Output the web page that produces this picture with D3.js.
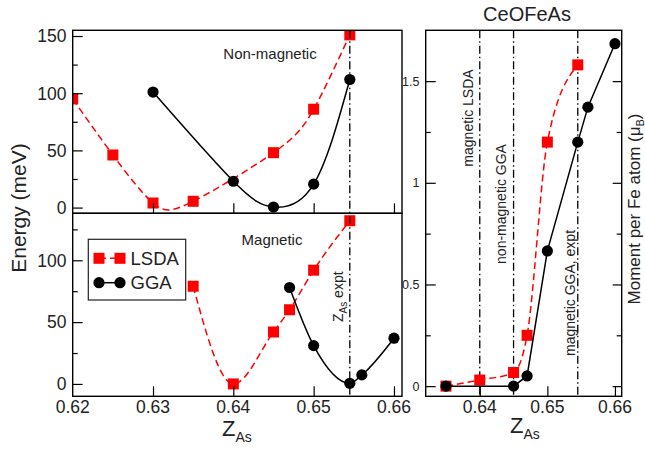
<!DOCTYPE html>
<html>
<head>
<meta charset="utf-8">
<script src="https://cdn.jsdelivr.net/npm/d3@7"></script>
<style>
  html, body { margin: 0; padding: 0; background: #fff; }
  svg { display: block; font-family: "Liberation Sans", Arial, Helvetica, sans-serif; }
</style>
</head>
<body>
<svg id="chart" width="645" height="449"></svg>
<script>
// ---- data ----
const zExpt = 0.6545;

// Non-magnetic energies (meV)
const nmLsdaZ = [0.62, 0.625, 0.63, 0.635, 0.645, 0.65, 0.6545];
const nmLsdaE = [95, 46, 4, 5.5, 48, 86, 151];
const nmGgaZ = [0.63, 0.64, 0.645, 0.65, 0.6545];
const nmGgaE = [101, 23, 0.5, 20.5, 112];

// Magnetic energies (meV)
const mLsdaZ = [0.635, 0.64, 0.645, 0.647, 0.65, 0.6545];
const mLsdaE = [79, 0, 42, 60, 92, 132];
const mGgaZ = [0.647, 0.65, 0.6545, 0.656, 0.66];
const mGgaE = [78, 31, 0.5, 7.3, 37];

// Moment per Fe atom (mu_B)
const momLsdaZ = [0.635, 0.64, 0.645, 0.647, 0.65, 0.6545];
const momLsdaM = [0.0, 0.03, 0.067, 0.25, 1.2, 1.58];
const momGgaZ = [0.635, 0.645, 0.647, 0.65, 0.6545, 0.656, 0.66];
const momGgaM = [0.0, 0.0, 0.05, 0.665, 1.2, 1.372, 1.684];

// reference lines in the moment panel
const momLines = [0.64, 0.645, 0.6545];
const momLineLabels = ["magnetic LSDA", "non-magnetic GGA", "magnetic GGA, expt"];

// tick values
const zTicksLeft = [0.62, 0.63, 0.64, 0.65, 0.66];
const zTicksRight = [0.64, 0.65, 0.66];
const eTicksTop = [0, 50, 100, 150];
const eTicksBottom = [0, 50, 100];
const eMinor = [25, 75, 125];
const mTicks = [0, 0.5, 1, 1.5];
const mMinor = [0.25, 0.75, 1.25];

// ---- layout ----
const svg = d3.select("#chart");
const RED = "#ff0000";
const TXT = "#222";
const L = { x0: 72.7, x1: 402, top: 30.3, mid: 213.3, bot: 396.3 };
const R = { x0: 425.7, x1: 621.7, top: 30.3, bot: 396.3 };

const xL = d3.scaleLinear().domain([0.62, 0.661]).range([L.x0, L.x1]);
const yTop = d3.scaleLinear().domain([-5, 155]).range([L.mid, L.top]);
const yBot = d3.scaleLinear().domain([-10, 138]).range([L.bot, L.mid]);
const xR = d3.scaleLinear().domain([0.632, 0.661]).range([R.x0, R.x1]);
const yR = d3.scaleLinear().domain([-0.05, 1.75]).range([R.bot, R.top]);

const zip = (a, b) => a.map((v, i) => [v, b[i]]);
const fmtZ = d3.format(".2f");

// clip paths per panel
const defs = svg.append("defs");
function clip(id, x, y, w, h) {
  defs.append("clipPath").attr("id", id).append("rect")
    .attr("x", x).attr("y", y).attr("width", w).attr("height", h);
}
clip("cTop", L.x0, L.top, L.x1 - L.x0, L.mid - L.top);
clip("cBot", L.x0, L.mid, L.x1 - L.x0, L.bot - L.mid);
clip("cR", R.x0, R.top, R.x1 - R.x0, R.bot - R.top);

// ---- axes helpers ----
function leftAxis(g, scale, major, minor, x) {
  const a = g.append("g").attr("transform", `translate(${x},0)`);
  a.call(d3.axisRight(scale).tickValues(major).tickSize(10).tickFormat(""));
  a.append("g").call(d3.axisRight(scale).tickValues(minor).tickSize(5).tickFormat(""));
  a.selectAll(".domain").remove();
  a.selectAll("line").attr("stroke", "#000").attr("stroke-width", 1.2);
  return a;
}
function yLabels(g, scale, values, x, size, fmt) {
  g.append("g").selectAll("text").data(values).join("text")
    .attr("x", x).attr("y", d => scale(d)).attr("dy", "0.36em")
    .attr("text-anchor", "end").attr("font-size", size).attr("fill", TXT)
    .text(fmt);
}
function bottomTicks(g, scale, values, y) {
  const a = g.append("g").attr("transform", `translate(0,${y})`)
    .call(d3.axisTop(scale).tickValues(values).tickSize(10).tickFormat(""));
  a.selectAll(".domain").remove();
  a.selectAll("line").attr("stroke", "#000").attr("stroke-width", 1.2);
}
function xLabels(g, scale, values, y) {
  g.append("g").selectAll("text").data(values).join("text")
    .attr("x", d => scale(d)).attr("y", y)
    .attr("text-anchor", "middle").attr("font-size", 17.5).attr("fill", TXT)
    .text(fmtZ);
}
function frame(x0, y0, x1, y1) {
  svg.append("rect").attr("x", x0).attr("y", y0)
    .attr("width", x1 - x0).attr("height", y1 - y0)
    .attr("fill", "none").attr("stroke", "#000").attr("stroke-width", 1.4);
}

// ---- marks helpers ----
function series(g, sx, sy, pts, opt) {
  const line = d3.line().x(d => sx(d[0])).y(d => sy(d[1])).curve(opt.curve || d3.curveLinear);
  g.append("path").datum(pts).attr("d", line)
    .attr("fill", "none").attr("stroke", opt.color).attr("stroke-width", 1.5)
    .attr("stroke-dasharray", opt.dash || null);
  if (opt.shape === "square") {
    g.append("g").selectAll("rect").data(pts).join("rect")
      .attr("x", d => sx(d[0]) - 5.5).attr("y", d => sy(d[1]) - 5.5)
      .attr("width", 11).attr("height", 11).attr("fill", opt.color);
  } else {
    g.append("g").selectAll("circle").data(pts).join("circle")
      .attr("cx", d => sx(d[0])).attr("cy", d => sy(d[1])).attr("r", 5.6)
      .attr("fill", opt.color);
  }
}
function dashDot(g, x, y0, y1) {
  g.append("line").attr("x1", x).attr("x2", x).attr("y1", y0).attr("y2", y1)
    .attr("stroke", "#000").attr("stroke-width", 1.3)
    .attr("stroke-dasharray", "8,3,1.5,3");
}

// ---- left: energy panels ----
const gTop = svg.append("g").attr("clip-path", "url(#cTop)");
const gBot = svg.append("g").attr("clip-path", "url(#cBot)");

dashDot(svg, xL(zExpt), L.top, L.bot);

series(gTop, xL, yTop, zip(nmLsdaZ, nmLsdaE), { color: RED, dash: "7,4", shape: "square", curve: d3.curveNatural });
series(gTop, xL, yTop, zip(nmGgaZ, nmGgaE), { color: "#000", shape: "circle", curve: d3.curveNatural });

series(gBot, xL, yBot, zip(mLsdaZ, mLsdaE), { color: RED, dash: "7,4", shape: "square", curve: d3.curveMonotoneX });
series(gBot, xL, yBot, zip(mGgaZ, mGgaE), { color: "#000", shape: "circle", curve: d3.curveMonotoneX });

leftAxis(svg, yTop, eTicksTop, eMinor, L.x0);
leftAxis(svg, yBot, eTicksBottom, eMinor, L.x0);
yLabels(svg, yTop, eTicksTop, 66.5, 17.5, d => d);
yLabels(svg, yBot, eTicksBottom, 66.5, 17.5, d => d);
bottomTicks(svg, xL, zTicksLeft.slice(1), L.mid);
bottomTicks(svg, xL, zTicksLeft.slice(1), L.bot);
xLabels(svg, xL, zTicksLeft, 413);
frame(L.x0, L.top, L.x1, L.mid);
frame(L.x0, L.mid, L.x1, L.bot);

svg.append("text").attr("x", 270).attr("y", 59).attr("text-anchor", "middle")
  .attr("font-size", 15).attr("fill", TXT).text("Non-magnetic");
svg.append("text").attr("x", 272).attr("y", 245).attr("text-anchor", "middle")
  .attr("font-size", 15).attr("fill", TXT).text("Magnetic");

// Z_As expt label next to the experimental line
const zl = svg.append("text")
  .attr("transform", `translate(${xL(zExpt) - 7},322) rotate(-90)`)
  .attr("font-size", 14).attr("fill", TXT);
zl.append("tspan").text("Z");
zl.append("tspan").attr("dy", 4).attr("font-size", 10).text("As");
zl.append("tspan").attr("dy", -4).text(" expt");

// legend
const lg = svg.append("g");
lg.append("rect").attr("x", 88.3).attr("y", 239.3).attr("width", 97.4).attr("height", 60.7)
  .attr("fill", "#fff").attr("stroke", "#222").attr("stroke-width", 1.2);
const legendItems = [
  { name: "LSDA", color: RED, dash: "7,4", shape: "square", y: 258.3 },
  { name: "GGA", color: "#000", dash: null, shape: "circle", y: 282.7 }
];
legendItems.forEach(it => {
  lg.append("line").attr("x1", 99).attr("x2", 120).attr("y1", it.y).attr("y2", it.y)
    .attr("stroke", it.color).attr("stroke-width", 1.5).attr("stroke-dasharray", it.dash);
  [99, 120].forEach(cx => {
    if (it.shape === "square") {
      lg.append("rect").attr("x", cx - 5.5).attr("y", it.y - 5.5).attr("width", 11).attr("height", 11).attr("fill", it.color);
    } else {
      lg.append("circle").attr("cx", cx).attr("cy", it.y).attr("r", 5.6).attr("fill", it.color);
    }
  });
  lg.append("text").attr("x", 130.5).attr("y", it.y).attr("dy", "0.36em")
    .attr("font-size", 18.5).attr("fill", TXT).text(it.name);
});

// axis titles (left)
svg.append("text").attr("transform", "translate(26,208) rotate(-90)")
  .attr("text-anchor", "middle").attr("font-size", 21).attr("fill", TXT).text("Energy (meV)");
const zx = svg.append("text").attr("x", 222).attr("y", 436).attr("font-size", 22).attr("fill", TXT);
zx.append("tspan").text("Z");
zx.append("tspan").attr("dy", 6).attr("font-size", 14).text("As");

// ---- right: moment panel ----
const gR = svg.append("g").attr("clip-path", "url(#cR)");
momLines.forEach(z => dashDot(gR, xR(z), R.top, R.bot));

series(gR, xR, yR, zip(momLsdaZ, momLsdaM), { color: RED, dash: "7,4", shape: "square", curve: d3.curveMonotoneX });
series(gR, xR, yR, zip(momGgaZ, momGgaM), { color: "#000", shape: "circle" });

// rotated labels beside the reference lines
const labelPos = [[468, 118], [501, 204], [570, 293]];
momLineLabels.forEach((t, i) => {
  svg.append("text").attr("transform", `translate(${labelPos[i][0]},${labelPos[i][1]}) rotate(-90)`)
    .attr("text-anchor", "middle").attr("dy", "0.36em")
    .attr("font-size", 14).attr("fill", TXT).text(t);
});

leftAxis(svg, yR, mTicks, mMinor, R.x0);
const rAx = svg.append("g").attr("transform", `translate(${R.x1},0)`);
rAx.call(d3.axisLeft(yR).tickValues(mTicks).tickSize(9).tickFormat(""));
rAx.append("g").call(d3.axisLeft(yR).tickValues(mMinor).tickSize(5).tickFormat(""));
rAx.selectAll(".domain").remove();
rAx.selectAll("line").attr("stroke", "#000").attr("stroke-width", 1.2);
yLabels(svg, yR, mTicks, 419.5, 12.5, d => d === 0 ? "0" : String(d));
bottomTicks(svg, xR, zTicksRight, R.bot);
xLabels(svg, xR, zTicksRight, 413);
frame(R.x0, R.top, R.x1, R.bot);

svg.append("text").attr("x", 527).attr("y", 21).attr("text-anchor", "middle")
  .attr("font-size", 20).attr("fill", TXT).text("CeOFeAs");

const zr = svg.append("text").attr("x", 510).attr("y", 433).attr("font-size", 22).attr("fill", TXT);
zr.append("tspan").text("Z");
zr.append("tspan").attr("dy", 6).attr("font-size", 14).text("As");

const ml = svg.append("text").attr("transform", "translate(640,209) rotate(-90)")
  .attr("text-anchor", "middle").attr("font-size", 17).attr("fill", TXT);
ml.append("tspan").text("Moment per Fe atom (μ");
ml.append("tspan").attr("dy", 4).attr("font-size", 11).text("B");
ml.append("tspan").attr("dy", -4).text(")");
</script>
</body>
</html>
